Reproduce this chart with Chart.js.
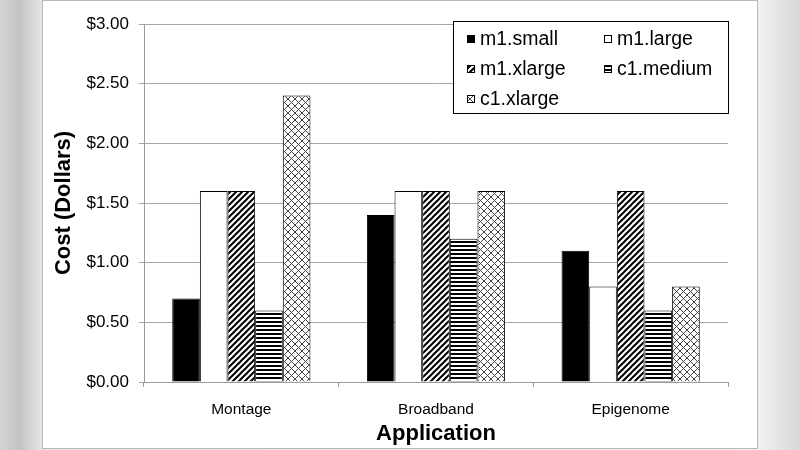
<!DOCTYPE html>
<html>
<head>
<meta charset="utf-8">
<script src="https://cdn.jsdelivr.net/npm/chart.js@4"></script>
<style>
  html, body { margin: 0; padding: 0; }
  body {
    width: 800px; height: 450px; overflow: hidden; position: relative;
    background: linear-gradient(to right, #d4d4d4 0px, #c4c4c4 20px, #e6e6e6 42px, #f2f2f2 758px, #e4e4e4 780px, #d6d6d6 800px);
  }
  #panel {
    position: absolute; left: 42px; top: 0; width: 716px; height: 449px;
    background: #fff; border: 1px solid #b8b8b8; box-sizing: border-box;
  }
  #panel canvas { position: absolute; left: 0; top: 0; }
</style>
</head>
<body>
<div id="panel"><canvas id="costChart" width="716" height="449"></canvas></div>
<script>
// --- 데이터 ---
const applications = ["Montage", "Broadband", "Epigenome"];
const instanceTypes = ["m1.small", "m1.large", "m1.xlarge", "c1.medium", "c1.xlarge"];
const m1Small = [0.70, 1.40, 1.10];
const m1Large = [1.60, 1.60, 0.80];
const m1Xlarge = [1.60, 1.60, 1.60];
const c1Medium = [0.60, 1.20, 0.60];
const c1Xlarge = [2.40, 1.60, 0.80];
const yTicks = [0, 0.5, 1, 1.5, 2, 2.5, 3];

// --- 패턴 ---
function makeTile(w, h, draw) {
  const c = document.createElement("canvas");
  c.width = w; c.height = h;
  const g = c.getContext("2d");
  g.fillStyle = "#fff";
  g.fillRect(0, 0, w, h);
  draw(g, w, h);
  return c;
}
const ctx = document.getElementById("costChart").getContext("2d");

const diagTile = makeTile(6, 6, (g, w, h) => {
  g.strokeStyle = "#000";
  g.lineWidth = 2;
  g.beginPath();
  g.moveTo(-1, h + 1); g.lineTo(w + 1, -1);
  g.moveTo(-1, 1); g.lineTo(1, -1);
  g.moveTo(w - 1, h + 1); g.lineTo(w + 1, h - 1);
  g.stroke();
});
const horizTile = makeTile(4, 4, (g, w) => {
  g.fillStyle = "#000";
  g.fillRect(0, 0, w, 2);
});
const crossTile = makeTile(7, 7, (g, w, h) => {
  g.strokeStyle = "#444";
  g.lineWidth = 1;
  g.beginPath();
  g.moveTo(0, 0); g.lineTo(w, h);
  g.moveTo(w, 0); g.lineTo(0, h);
  g.stroke();
});

const fills = [
  "#000",
  "#fff",
  ctx.createPattern(diagTile, "repeat"),
  ctx.createPattern(horizTile, "repeat"),
  ctx.createPattern(crossTile, "repeat"),
];
const seriesValues = [m1Small, m1Large, m1Xlarge, c1Medium, c1Xlarge];

// --- 범례 (차트 영역 안, 2열) ---
const boxLegend = {
  id: "boxLegend",
  afterDraw(chart) {
    const c = chart.ctx;
    const area = chart.chartArea;
    const right = area.right, top = 20, w = 275, h = 92;
    const left = right - w;
    c.save();
    c.fillStyle = "#fff";
    c.fillRect(left, top, w, h);
    c.strokeStyle = "#000";
    c.lineWidth = 1;
    c.strokeRect(left + 0.5, top + 0.5, w, h);
    c.font = "19.5px 'Liberation Sans', Arial, sans-serif";
    c.textBaseline = "middle";
    chart.data.datasets.forEach((ds, i) => {
      const col = i % 2, row = Math.floor(i / 2);
      const x = left + 14 + col * 137;
      const y = top + 18 + row * 30;
      c.fillStyle = ds.backgroundColor;
      c.fillRect(x, y - 4, 8, 8);
      c.strokeStyle = "#000";
      c.strokeRect(x + 0.5, y - 3.5, 7, 7);
      c.fillStyle = "#000";
      c.fillText(ds.label, x + 13, y + 1);
    });
    c.restore();
  },
};

new Chart(ctx, {
  type: "bar",
  data: {
    labels: applications,
    datasets: instanceTypes.map((name, i) => ({
      label: name,
      data: seriesValues[i],
      backgroundColor: fills[i],
      borderColor: "#000",
      borderWidth: 1,
      barPercentage: 1,
      categoryPercentage: 0.71,
    })),
  },
  options: {
    responsive: false,
    animation: false,
    devicePixelRatio: 1,
    layout: { padding: { left: 0, right: 31, top: 23, bottom: 0 } },
    plugins: { legend: { display: false }, tooltip: { enabled: false } },
    scales: {
      x: {
        afterFit: (s) => { s.height = 68; },
        grid: { display: true, drawOnChartArea: false, offset: true, color: "#9a9a9a", tickLength: 5 },
        border: { color: "#9a9a9a" },
        ticks: { color: "#000", padding: 13, font: { family: "'Liberation Sans', Arial", size: 15.5 } },
        title: {
          display: true, text: "Application", color: "#000",
          padding: { top: 0, bottom: 3 },
          font: { family: "'Liberation Sans', Arial", size: 22, weight: "bold" },
        },
      },
      y: {
        min: 0, max: 3,
        afterFit: (s) => { s.width = 101; },
        afterBuildTicks: (s) => { s.ticks = yTicks.map((v) => ({ value: v })); },
        grid: { color: "#a6a6a6", tickLength: 5 },
        border: { color: "#9a9a9a" },
        ticks: {
          color: "#000", padding: 10,
          font: { family: "'Liberation Sans', Arial", size: 17 },
          callback: (v) => "$" + Number(v).toFixed(2),
        },
        title: {
          display: true, text: "Cost (Dollars)", color: "#000",
          padding: { top: 8, bottom: 0 },
          font: { family: "'Liberation Sans', Arial", size: 22, weight: "bold" },
        },
      },
    },
  },
  plugins: [boxLegend],
});
</script>
</body>
</html>
